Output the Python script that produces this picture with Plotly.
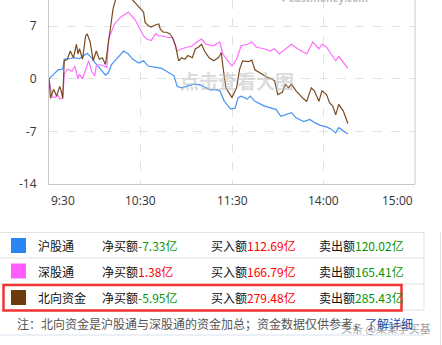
import plotly.graph_objects as go

# ---- data (trading minutes since 9:30; 120 = 11:30/13:00, 240 = 15:00) ----
hgt_min = [0, 3, 6, 9, 10, 14, 17, 20, 24, 25, 28, 30, 33, 37, 39, 41, 44, 49, 52, 55, 59, 62, 65, 70, 74, 77, 82, 84, 87, 90, 95, 99, 103, 106, 109, 112, 115, 119, 122, 124, 126, 130, 132, 135, 141, 146, 149, 152, 155, 159, 162, 167, 171, 174, 178, 182, 185, 188, 190, 193, 196]
hgt_val = [0.0, 0.6, 1.2, 1.3, 2.6, 2.7, 2.8, 2.7, 3.2, 3.4, 2.8, 2.2, 1.5, 0.5, 0.8, 1.9, 2.6, 3.7, 3.3, 2.6, 2.1, 2.4, 1.7, 1.5, 1.4, 1.0, 0.4, -1.0, -1.2, -1.0, -0.7, -0.8, -1.2, -1.5, -1.4, -1.6, -3.0, -4.0, -3.9, -2.5, -2.3, -2.7, -2.3, -3.0, -3.6, -3.9, -4.1, -5.0, -4.8, -4.5, -5.2, -5.7, -5.4, -5.8, -6.2, -6.4, -6.7, -7.2, -6.5, -6.9, -7.33]

sgt_min = [0, 2, 4, 6, 7, 9, 10, 12, 15, 17, 19, 20, 22, 24, 26, 28, 30, 31, 33, 36, 38, 39, 41, 43, 47, 50, 52, 54, 56, 58, 60, 62, 64, 67, 70, 72, 75, 78, 81, 84, 87, 90, 94, 97, 100, 103, 108, 112, 114, 118, 120, 123, 126, 130, 133, 136, 141, 145, 148, 151, 155, 159, 163, 169, 173, 177, 179, 182, 185, 188, 190, 193, 196]
sgt_val = [0.0, -2.4, -2.5, -2.2, -2.7, -2.6, 0.6, 1.3, 1.0, 1.7, 0.0, 0.6, 0.0, 1.3, 2.4, 1.0, 0.4, 1.7, 1.9, 1.7, 1.5, 5.3, 6.2, 7.3, 8.2, 8.6, 8.9, 8.4, 8.0, 7.3, 6.4, 5.7, 5.3, 5.1, 6.0, 5.7, 5.7, 5.5, 5.5, 3.7, 4.0, 4.2, 4.4, 4.9, 5.3, 4.6, 4.4, 4.9, 3.3, 2.2, 1.7, 2.6, 4.4, 4.6, 4.9, 4.2, 4.0, 3.7, 4.0, 3.3, 4.0, 4.6, 4.0, 3.3, 4.9, 4.0, 4.6, 4.2, 3.3, 2.4, 3.0, 2.2, 1.38]

bx_min = [0, 1, 3, 5, 7, 8, 9, 10, 12, 14, 16, 18, 19, 20, 22, 24, 25, 27, 29, 31, 33, 35, 37, 39, 41, 42, 44, 47, 50, 53, 54, 56, 58, 60, 62, 63, 65, 67, 70, 72, 73, 75, 77, 79, 81, 83, 85, 87, 89, 91, 94, 96, 98, 100, 102, 105, 108, 111, 112, 113, 114, 116, 120, 123, 125, 127, 131, 133, 135, 139, 143, 146, 148, 150, 153, 155, 157, 159, 162, 167, 169, 172, 174, 177, 179, 182, 184, 186, 188, 190, 193, 196]
bx_val = [0.0, -2.6, -1.4, -2.3, -1.0, -1.6, -2.6, 2.4, 2.6, 3.7, 2.8, 4.6, 3.3, 4.0, 2.6, 5.7, 6.0, 4.9, 2.4, 3.7, 2.6, 2.8, 1.9, 4.9, 8.0, 9.3, 10.8, 11.6, 12.1, 11.6, 10.7, 10.2, 9.8, 9.3, 8.9, 7.5, 7.1, 6.9, 7.2, 7.3, 6.6, 6.2, 6.2, 6.0, 5.5, 4.4, 2.4, 2.8, 2.6, 3.1, 2.8, 4.0, 4.2, 4.6, 3.7, 2.8, 2.4, 2.8, 3.1, 3.5, 1.7, -1.2, -2.5, -1.2, 1.3, 2.4, 2.3, 2.5, 1.2, 0.7, 0.2, 0.0, -0.3, -2.1, -1.8, -0.7, -1.2, -0.7, -1.6, -2.7, -3.0, -1.2, -1.6, -3.0, -1.6, -2.1, -3.2, -3.6, -4.8, -3.4, -4.3, -5.95]

x_tick_pos = [0, 60, 120, 180, 240]
x_tick_txt = ["9:30", "10:30", "11:30", "14:00", "15:00"]
y_ticks = [7, 0, -7, -14]

names = ["沪股通", "深股通", "北向资金"]
net_buy = [-7.33, 1.38, -5.95]
buy_amt = [112.69, 166.79, 279.48]
sell_amt = [120.02, 165.41, 285.43]

line_colors = ["#4693f5", "#ff6cff", "#7a4b20"]
box_colors = ["#2a85f5", "#ff5cff", "#6e3b0c"]

W, H = 442, 345
L, R, T, B = 49, 27, 0, 161
PW, PH = W - L - R, H - T - B

def px(x):
    return (x - L) / PW

def py(y):
    return (PH - y) / PH

fig = go.Figure()
for mins, vals, c, n in [(hgt_min, hgt_val, line_colors[0], names[0]),
                         (sgt_min, sgt_val, line_colors[1], names[1]),
                         (bx_min, bx_val, line_colors[2], names[2])]:
    fig.add_trace(go.Scatter(x=mins, y=vals, mode="lines", name=n,
                             line=dict(color=c, width=1.2), showlegend=False,
                             hoverinfo="skip"))

font_lat = "Open Sans, Noto Sans, sans-serif"
font_cjk = "Noto Sans CJK SC, sans-serif"

fig.update_layout(
    width=W, height=H, margin=dict(l=L, r=R, t=T, b=B),
    paper_bgcolor="white", plot_bgcolor="white",
    xaxis=dict(range=[0, 240], tickvals=x_tick_pos, showticklabels=False,
               showgrid=True, gridcolor="#e2e2e2", griddash="dash", gridwidth=1,
               showline=True, linecolor="#c8c8c8", linewidth=1, zeroline=False,
               fixedrange=True),
    yaxis=dict(range=[-14, 10.49], tickvals=y_ticks, ticktext=[str(v) for v in y_ticks],
               showgrid=True, gridcolor="#e2e2e2", griddash="dash", gridwidth=1,
               showline=True, linecolor="#c8c8c8", linewidth=1, zeroline=False,
               ticks="", ticklabelstandoff=9,
               tickfont=dict(family=font_lat, size=12, color="#333333"),
               fixedrange=True),
    showlegend=False,
)

shapes = []
annotations = []

# right border of plot
shapes.append(dict(type="line", xref="paper", yref="paper", x0=1, x1=1, y0=0, y1=1,
                   line=dict(color="#c8c8c8", width=1)))

# x tick labels (edge labels aligned inward)
for i, (p, t) in enumerate(zip(x_tick_pos, x_tick_txt)):
    anchor = "left" if i == 0 else ("right" if i == len(x_tick_pos) - 1 else "center")
    annotations.append(dict(x=p, y=py(200.5), xref="x", yref="paper", text=t,
                            showarrow=False, xanchor=anchor, yanchor="middle",
                            font=dict(family=font_lat, size=12, color="#333333")))

# watermarks on chart
annotations.append(dict(x=px(237), y=py(81), xref="paper", yref="paper",
                        text="<b>点击查看大图</b>", showarrow=False,
                        font=dict(family=font_cjk, size=19, color="rgba(190,190,190,0.55)")))
annotations.append(dict(x=px(370), y=py(-2), xref="paper", yref="paper",
                        text="<b>♦ eastmoney.com</b>", showarrow=False, yanchor="middle",
                        font=dict(family=font_lat, size=10, color="rgba(170,170,170,0.8)")))

# table lines
for yy in [232.5, 258, 284, 310]:
    shapes.append(dict(type="line", xref="paper", yref="paper", x0=px(0), x1=px(424),
                       y0=py(yy), y1=py(yy), line=dict(color="#e2e2e2", width=1)))
shapes.append(dict(type="line", xref="paper", yref="paper", x0=px(424), x1=px(424),
                   y0=py(232.5), y1=py(310), line=dict(color="#e2e2e2", width=1)))
shapes.append(dict(type="line", xref="paper", yref="paper", x0=px(440.5), x1=px(440.5),
                   y0=py(232.5), y1=py(345), line=dict(color="#e2e2e2", width=1)))
shapes.append(dict(type="line", xref="paper", yref="paper", x0=px(0), x1=px(424),
                   y0=py(335), y1=py(335), line=dict(color="#d8e2ee", width=1)))

row_y = [245.5, 271, 297.5]
box_top = [238, 263.5, 290]

def col(v):
    return "#ff0000" if v > 0 else "#079607"

for i in range(3):
    shapes.append(dict(type="rect", xref="paper", yref="paper",
                       x0=px(11), x1=px(26), y0=py(box_top[i]), y1=py(box_top[i] + 15),
                       fillcolor=box_colors[i], line=dict(width=0)))
    yv = py(row_y[i])
    annotations.append(dict(x=px(36), y=yv, xref="paper", yref="paper", text=names[i],
                            showarrow=False, xanchor="left", yanchor="middle",
                            font=dict(family=font_cjk, size=12, color="#111111")))
    annotations.append(dict(x=px(100), y=yv, xref="paper", yref="paper",
                            text="净买额<span style='color:%s'>%.2f亿</span>" % (col(net_buy[i]), net_buy[i]),
                            showarrow=False, xanchor="left", yanchor="middle",
                            font=dict(family=font_cjk, size=12, color="#111111")))
    annotations.append(dict(x=px(209), y=yv, xref="paper", yref="paper",
                            text="买入额<span style='color:#ff0000'>%.2f亿</span>" % buy_amt[i],
                            showarrow=False, xanchor="left", yanchor="middle",
                            font=dict(family=font_cjk, size=12, color="#111111")))
    annotations.append(dict(x=px(317), y=yv, xref="paper", yref="paper",
                            text="卖出额<span style='color:#079607'>%.2f亿</span>" % sell_amt[i],
                            showarrow=False, xanchor="left", yanchor="middle",
                            font=dict(family=font_cjk, size=12, color="#111111")))

# red highlight box
shapes.append(dict(type="rect", xref="paper", yref="paper",
                   x0=px(3.5), x1=px(401.5), y0=py(285), y1=py(310.5),
                   fillcolor="rgba(0,0,0,0)", line=dict(color="#f03535", width=2.5)))

# note
annotations.append(dict(x=px(15), y=py(323), xref="paper", yref="paper",
                        text="注：北向资金是沪股通与深股通的资金加总；资金数据仅供参考，<span style='color:#1a4cb0'>了解详细</span>",
                        showarrow=False, xanchor="left", yanchor="middle",
                        font=dict(family=font_cjk, size=12, color="#555555")))
annotations.append(dict(x=px(386), y=py(328), xref="paper", yref="paper",
                        text="头条 @某某学买基", showarrow=False,
                        xanchor="center", yanchor="middle",
                        font=dict(family=font_cjk, size=11, color="rgba(90,90,90,0.6)")))

fig.update_layout(shapes=shapes, annotations=annotations)
fig.write_html("out.html")
